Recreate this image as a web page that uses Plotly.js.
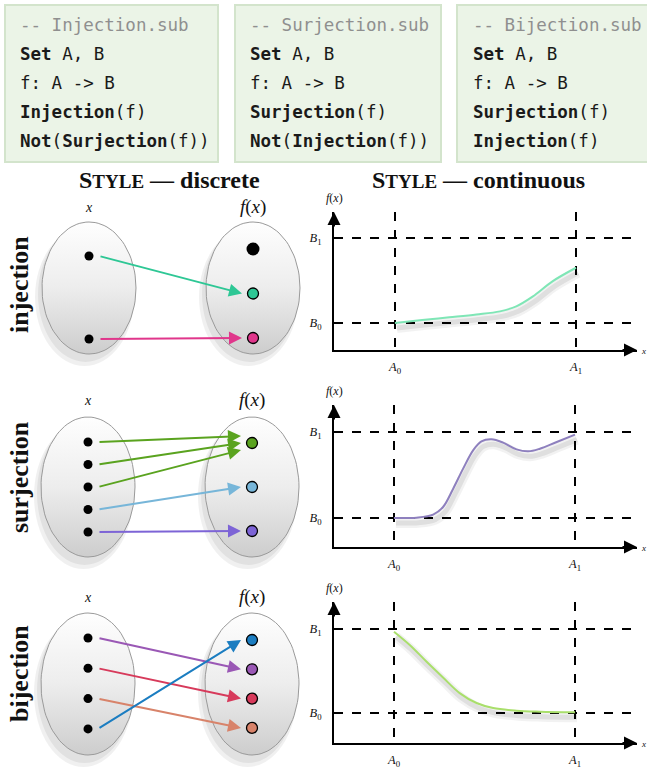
<!DOCTYPE html>
<html><head><meta charset="utf-8">
<script src="https://cdn.plot.ly/plotly-3.0.1.min.js"></script>
<style>html,body{margin:0;padding:0;background:#fff}</style>
</head><body><div id="chart" style="width:647px;height:768px"></div>
<script>
// ---------------- DATA ----------------
const codeFiles = ['-- Injection.sub', '-- Surjection.sub', '-- Bijection.sub'];
const codeInjection = ['<b>Set</b> A, B', 'f: A -&gt; B', '<b>Injection</b>(f)', '<b>Not</b>(<b>Surjection</b>(f))'];
const codeSurjection = ['<b>Set</b> A, B', 'f: A -&gt; B', '<b>Surjection</b>(f)', '<b>Not</b>(<b>Injection</b>(f))'];
const codeBijection = ['<b>Set</b> A, B', 'f: A -&gt; B', '<b>Surjection</b>(f)', '<b>Injection</b>(f)'];

const rowNames = ['injection', 'surjection', 'bijection'];
// mapping: index of domain element -> index of codomain element
const injMap = [1, 2];
const surMap = [0, 0, 0, 1, 2];
const bijMap = [1, 2, 3, 0];
const injColors = ['#000000', '#2ec795', '#e0368b'];
const surColors = ['#5aa31f', '#77b6d9', '#7d64d6'];
const bijColors = ['#1b7dc1', '#9a58b5', '#d73a5b', '#d8836a'];

// continuous curves: t in [A0, A1] -> value in [B0, B1] (normalized)
const injT = [0, 0.15, 0.30, 0.45, 0.58, 0.67, 0.76, 0.87, 1.0];
const injY = [0, 0.035, 0.067, 0.10, 0.137, 0.196, 0.31, 0.49, 0.65];
const surT = [0, 0.124, 0.216, 0.271, 0.327, 0.382, 0.437, 0.483, 0.539, 0.603, 0.677, 0.742, 0.806, 0.899, 1.0];
const surY = [0, 0.004, 0.039, 0.128, 0.341, 0.574, 0.787, 0.891, 0.915, 0.876, 0.798, 0.775, 0.806, 0.884, 0.969];
const bijT = [0, 0.087, 0.179, 0.271, 0.363, 0.456, 0.548, 0.677, 0.806, 1.0];
const bijY = [0.968, 0.81, 0.613, 0.423, 0.237, 0.119, 0.059, 0.028, 0.016, 0.008];
const curveColors = ['#7fe6b6', '#8e80be', '#a9df6b'];

const xTickVals = [0, 1];
const xTickText = ['<i>A</i><sub>0</sub>', '<i>A</i><sub>1</sub>'];
const yTickVals = [0, 1];
const yTickText = ['<i>B</i><sub>0</sub>', '<i>B</i><sub>1</sub>'];

// ---------------- LAYOUT GEOMETRY ----------------
const W = 647, H = 768;
const px = x => x / W, py = y => 1 - y / H;
const SERIF = 'Liberation Serif, DejaVu Serif, serif';
const MONO = 'DejaVu Sans Mono, Liberation Mono, monospace';

const boxes = [
  {x0: 5, x1: 218, tx: 18},
  {x0: 235, x1: 441, tx: 248},
  {x0: 457, x1: 662, tx: 471}
];
const lineYs = [25, 54, 83, 112, 141];

const rows = [
  {lx: 89, rx: 253, cy: 288, rxr: 47, ry: 66, labelY: 207, lTop: 256, lStep: 83, rTop: 249, rStep: 44.5, nameY: 285},
  {lx: 88, rx: 252, cy: 487, rxr: 47, ry: 70, labelY: 400, lTop: 442, lStep: 22.5, rTop: 443, rStep: 44, nameY: 477},
  {lx: 88, rx: 252, cy: 684, rxr: 47, ry: 71, labelY: 597, lTop: 638, lStep: 30.3, rTop: 640, rStep: 29.3, nameY: 674}
];
const plotsGeom = [
  {x0: 334, x1: 637, yb: 350, yt: 212, a0: 395, a1: 576, b0: 323, b1: 238},
  {x0: 334, x1: 637, yb: 547, yt: 405, a0: 394, a1: 575, b0: 518, b1: 432},
  {x0: 334, x1: 637, yb: 743, yt: 602, a0: 394, a1: 575, b0: 713, b1: 629}
];

const traces = [];
const shapes = [];
const annotations = [];
const layout = {
  width: W, height: H, margin: {l: 0, r: 0, t: 0, b: 0},
  paper_bgcolor: '#ffffff', plot_bgcolor: 'rgba(0,0,0,0)',
  showlegend: false, hovermode: false
};

// ---------- continuous plots ----------
const curves = [[injT, injY], [surT, surY], [bijT, bijY]];
plotsGeom.forEach((g, i) => {
  const xr = [(g.x0 - g.a0) / (g.a1 - g.a0), (g.x1 - g.a0) / (g.a1 - g.a0)];
  const yr = [(g.b0 - g.yb) / (g.b0 - g.b1), (g.b0 - g.yt) / (g.b0 - g.b1)];
  const sId = i + 1, mId = i + 4;
  const sx = sId === 1 ? 'xaxis' : 'xaxis' + sId, sy = sId === 1 ? 'yaxis' : 'yaxis' + sId;
  // shadow axes (shifted a few px right/down)
  layout[sx] = {domain: [px(g.x0 + 2), px(g.x1 + 2)], range: xr, visible: false, fixedrange: true};
  layout[sy] = {domain: [py(g.yb + 5), py(g.yt + 5)], range: yr, visible: false, fixedrange: true};
  layout['xaxis' + mId] = {
    domain: [px(g.x0), px(g.x1)], range: xr, anchor: 'y' + mId,
    showline: true, linecolor: '#000', linewidth: 2, zeroline: false,
    showgrid: true, gridcolor: '#000', griddash: 'dash', gridwidth: 1.2,
    tickvals: xTickVals, ticktext: xTickText, ticks: '', ticklabelstandoff: 4,
    tickfont: {family: SERIF, size: 12.5, color: '#111'}, fixedrange: true
  };
  layout['yaxis' + mId] = {
    domain: [py(g.yb), py(g.yt)], range: yr, anchor: 'x' + mId,
    showline: true, linecolor: '#000', linewidth: 2, zeroline: false,
    showgrid: true, gridcolor: '#000', griddash: 'dash', gridwidth: 1.2,
    tickvals: yTickVals, ticktext: yTickText, ticks: '', ticklabelstandoff: 8,
    tickfont: {family: SERIF, size: 12.5, color: '#111'}, fixedrange: true
  };
  const [T, Y] = curves[i];
  const sref = sId === 1 ? '' : sId;
  traces.push({x: T, y: Y, xaxis: 'x' + sref, yaxis: 'y' + sref, mode: 'lines',
    line: {color: 'rgba(0,0,0,0.05)', width: 10, shape: 'spline'}});
  traces.push({x: T, y: Y, xaxis: 'x' + sref, yaxis: 'y' + sref, mode: 'lines',
    line: {color: 'rgba(0,0,0,0.08)', width: 5, shape: 'spline'}});
  traces.push({x: T, y: Y, xaxis: 'x' + mId, yaxis: 'y' + mId, mode: 'lines',
    line: {color: curveColors[i], width: 2, shape: 'spline'}});
  // axis arrows
  annotations.push({xref: 'x' + mId, yref: 'y' + mId, x: xr[1], y: yr[0], ax: -16, ay: 0, text: '',
    showarrow: true, arrowhead: 2, arrowsize: 1.3, arrowwidth: 2, arrowcolor: '#000'});
  annotations.push({xref: 'x' + mId, yref: 'y' + mId, x: xr[0], y: yr[1], ax: 0, ay: 16, text: '',
    showarrow: true, arrowhead: 2, arrowsize: 1.3, arrowwidth: 2, arrowcolor: '#000'});
  annotations.push({xref: 'paper', yref: 'paper', x: px(g.x0), y: py(g.yt - 14), yanchor: 'middle', xanchor: 'center',
    text: '<i>f</i>(<i>x</i>)', showarrow: false, font: {family: SERIF, size: 12, color: '#111'}});
  annotations.push({xref: 'paper', yref: 'paper', x: px(639), y: py(g.yb + 1), xanchor: 'left', yanchor: 'middle',
    text: '<i>x</i>', showarrow: false, font: {family: SERIF, size: 9, color: '#111'}});
});

// ---------- overlay axis in pixel units for the diagrams ----------
layout.xaxis7 = {domain: [0, 1], range: [0, W], visible: false, fixedrange: true, anchor: 'y7'};
layout.yaxis7 = {domain: [0, 1], range: [H, 0], visible: false, fixedrange: true, anchor: 'x7'};

// code boxes
const codeBodies = [codeInjection, codeSurjection, codeBijection];
boxes.forEach((b, i) => {
  shapes.push({type: 'rect', xref: 'x7', yref: 'y7', x0: b.x0, x1: b.x1, y0: 5, y1: 162,
    fillcolor: '#ebf4e7', line: {color: '#d3e4cc', width: 2}, layer: 'below'});
  const lines = [codeFiles[i]].concat(codeBodies[i]);
  lines.forEach((t, k) => {
    annotations.push({xref: 'x7', yref: 'y7', x: b.tx, y: lineYs[k], xanchor: 'left', yanchor: 'middle',
      text: t, showarrow: false, font: {family: MONO, size: 17.5, color: k === 0 ? '#8f8f8f' : '#1a1a1a'}});
  });
});

// headings
annotations.push({xref: 'x7', yref: 'y7', x: 169, y: 180, yanchor: 'middle',
  text: '<b>S<span style="font-size:19px">TYLE</span> — discrete</b>',
  showarrow: false, font: {family: SERIF, size: 24, color: '#111'}});
annotations.push({xref: 'x7', yref: 'y7', x: 478, y: 180, yanchor: 'middle',
  text: '<b>S<span style="font-size:19px">TYLE</span> — continuous</b>',
  showarrow: false, font: {family: SERIF, size: 24, color: '#111'}});

// diagrams
const maps = [injMap, surMap, bijMap];
const colorsAll = [injColors, surColors, bijColors];
function ellipse(cx, cy, rx, ry) {
  const xs = [], ys = [];
  for (let k = 0; k <= 96; k++) { const a = 2 * Math.PI * k / 96; xs.push(cx + rx * Math.cos(a)); ys.push(cy + ry * Math.sin(a)); }
  return [xs, ys];
}
rows.forEach((r, i) => {
  const map = maps[i], cols = colorsAll[i];
  [r.lx, r.rx].forEach(cx => {
    shapes.push({type: 'circle', xref: 'x7', yref: 'y7', x0: cx - r.rxr - 7, x1: cx + r.rxr - 2, y0: r.cy - r.ry + 6, y1: r.cy + r.ry + 12,
      fillcolor: 'rgba(0,0,0,0.06)', line: {width: 0}, layer: 'below'});
    shapes.push({type: 'circle', xref: 'x7', yref: 'y7', x0: cx - r.rxr - 4, x1: cx + r.rxr - 3, y0: r.cy - r.ry + 5, y1: r.cy + r.ry + 8,
      fillcolor: 'rgba(0,0,0,0.06)', line: {width: 0}, layer: 'below'});
    const [ex, ey] = ellipse(cx, r.cy, r.rxr, r.ry);
    traces.push({x: ex, y: ey, xaxis: 'x7', yaxis: 'y7', mode: 'lines', fill: 'toself',
      line: {color: '#9a9a9a', width: 1},
      fillgradient: {type: 'vertical', start: r.cy - r.ry, stop: r.cy + r.ry,
        colorscale: [[0, '#fefefe'], [0.5, '#ededed'], [1, '#cdcdcd']]}});
  });
  // labels
  annotations.push({xref: 'x7', yref: 'y7', x: r.lx, y: r.labelY, yanchor: 'middle', text: '<i>x</i>', showarrow: false,
    font: {family: SERIF, size: 14, color: '#111'}});
  annotations.push({xref: 'x7', yref: 'y7', x: r.rx, y: r.labelY, yanchor: 'middle', text: '<i>f</i>(<i>x</i>)', showarrow: false,
    font: {family: SERIF, size: 19, color: '#111'}});
  annotations.push({xref: 'x7', yref: 'y7', x: 19, y: r.nameY, yanchor: 'middle', text: '<b>' + rowNames[i] + '</b>', textangle: -90,
    showarrow: false, font: {family: SERIF, size: 26, color: '#111'}});
  // points
  const ly = map.map((_, k) => r.lTop + k * r.lStep);
  const ry = cols.map((_, j) => r.rTop + j * r.rStep);
  traces.push({x: ly.map(() => r.lx), y: ly, xaxis: 'x7', yaxis: 'y7', mode: 'markers',
    marker: {color: '#000', size: 9, opacity: 1}});
  const hit = cols.map((_, j) => map.includes(j));
  traces.push({x: ry.map(() => r.rx), y: ry, xaxis: 'x7', yaxis: 'y7', mode: 'markers',
    marker: {color: cols, opacity: 1, size: hit.map(h => h ? 11 : 13), line: {color: '#000', width: hit.map(h => h ? 1.3 : 0)}}});
  // arrows
  map.forEach((j, k) => {
    const srcs = map.map((jj, kk) => jj === j ? kk : -1).filter(v => v >= 0);
    const pos = srcs.indexOf(k), n = srcs.length;
    const off = (pos - (n - 1) / 2) * 7;
    annotations.push({xref: 'x7', yref: 'y7', axref: 'x7', ayref: 'y7',
      x: r.rx - 11, y: ry[j] + off, ax: r.lx + 10, ay: ly[k], text: '', showarrow: true,
      arrowhead: 2, arrowsize: 1.3, arrowwidth: 2, arrowcolor: cols[j]});
  });
});

layout.shapes = shapes;
layout.annotations = annotations;
Plotly.newPlot('chart', traces, layout, {staticPlot: true, displayModeBar: false});
</script></body></html>
